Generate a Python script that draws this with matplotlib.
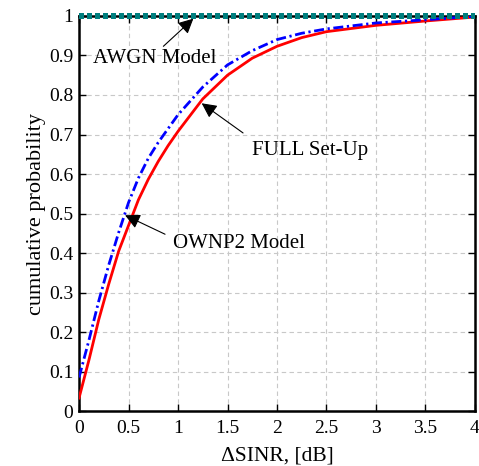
import matplotlib
matplotlib.use("Agg")
import matplotlib.pyplot as plt

# CDF of the SINR gap for the three set-ups
full_x = [0.0, 0.1, 0.2, 0.3, 0.4, 0.5, 0.6, 0.7, 0.8, 0.9, 1.0,
          1.25, 1.5, 1.75, 2.0, 2.25, 2.5, 3.0, 3.5, 4.0]
full_y = [0.034, 0.13, 0.233, 0.322, 0.405, 0.47, 0.535, 0.587, 0.632, 0.672, 0.708,
          0.79, 0.85, 0.893, 0.923, 0.945, 0.96, 0.976, 0.987, 0.997]

ownp2_x = [0.0, 0.1, 0.2, 0.3, 0.4, 0.5, 0.6, 0.7, 0.8, 0.9, 1.0,
           1.25, 1.5, 1.75, 2.0, 2.25, 2.5, 3.0, 3.5, 4.0]
ownp2_y = [0.086, 0.18, 0.28, 0.37, 0.452, 0.528, 0.59, 0.64, 0.68, 0.715, 0.75,
           0.82, 0.876, 0.912, 0.94, 0.956, 0.967, 0.982, 0.99, 0.999]

awgn_x = [0.0, 4.0]
awgn_y = [1.0, 1.0]

x_ticks = [0, 0.5, 1, 1.5, 2, 2.5, 3, 3.5, 4]
x_tick_labels = ["0", "0.5", "1", "1.5", "2", "2.5", "3", "3.5", "4"]
y_ticks = [0, 0.1, 0.2, 0.3, 0.4, 0.5, 0.6, 0.7, 0.8, 0.9, 1]
y_tick_labels = ["0", "0.1", "0.2", "0.3", "0.4", "0.5", "0.6", "0.7", "0.8", "0.9", "1"]

plt.rcParams["font.family"] = ["Liberation Serif", "DejaVu Serif"]

fig = plt.figure(figsize=(4.79, 4.66), dpi=100)
ax = fig.add_axes([0.165, 0.117, 0.8266, 0.849])

ax.plot(full_x, full_y, color="#ff0000", lw=2.0, zorder=3)
ax.plot(ownp2_x, ownp2_y, color="#0000ff", lw=2.0, dashes=(3.6, 1.3, 0.8, 1.3), zorder=3)
ax.plot(awgn_x, awgn_y, color="#007f7f", lw=4.4, dashes=(0.75, 0.65), zorder=4,
        clip_on=False, dash_capstyle="butt", antialiased=False)

ax.set_xlim(0, 4)
ax.set_ylim(0, 1)
ax.set_xticks(x_ticks)
ax.set_xticklabels(x_tick_labels)
ax.set_yticks(y_ticks)
ax.set_yticklabels(y_tick_labels)
ax.tick_params(direction="in", top=True, right=True, labelsize=14, length=5,
               width=1.0, pad=4)
ax.tick_params(axis="x", pad=6)

ax.grid(True, color="#c8c8c8", linestyle=(0, (4, 3)), linewidth=0.8)
for s in ax.spines.values():
    s.set_linewidth(1.8)
    s.set_color("black")

ax.set_xlabel("ΔSINR, [dB]", fontsize=15.5, labelpad=7)
ax.set_ylabel("cumulative probability", fontsize=16, labelpad=2)

arrow = dict(arrowstyle="-|>,head_length=0.9,head_width=0.45", color="black",
             lw=0.8, shrinkA=0, shrinkB=0)

# AWGN
ax.annotate("", xy=(1.155, 0.993), xytext=(0.852, 0.923), arrowprops=arrow)
ax.text(0.765, 0.893, "AWGN Model", fontsize=15, ha="center", va="center")
# FULL
ax.annotate("", xy=(1.239, 0.779), xytext=(1.657, 0.704), arrowprops=arrow)
ax.text(1.75, 0.659, "FULL Set-Up", fontsize=15, ha="left", va="center")
# OWNP2
ax.annotate("", xy=(0.465, 0.496), xytext=(0.869, 0.448), arrowprops=arrow)
ax.text(0.946, 0.425, "OWNP2 Model", fontsize=15, ha="left", va="center")

fig.savefig("out.png", dpi=100)
